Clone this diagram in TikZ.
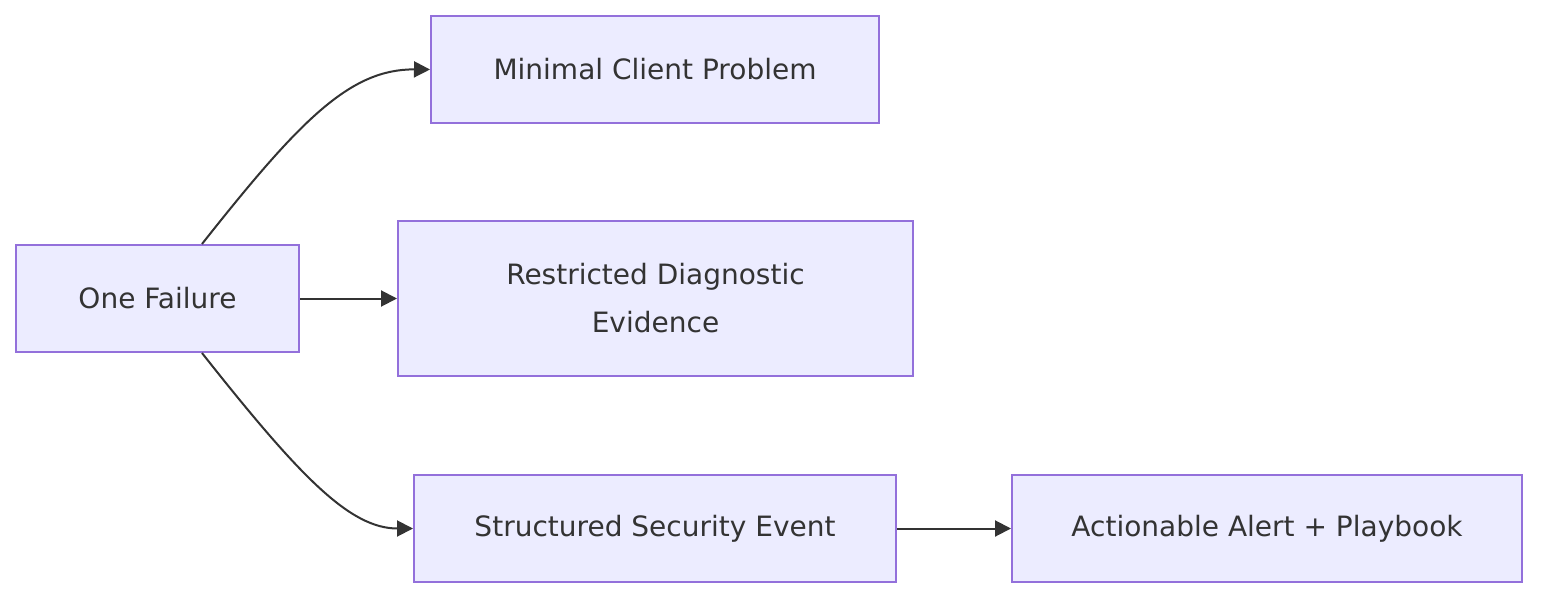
\documentclass[tikz,border=0pt]{standalone}
\usepackage{fontspec}
\setmainfont{DejaVu Sans}
\usetikzlibrary{arrows.meta,positioning,calc}

\definecolor{boxfill}{HTML}{ECECFF}
\definecolor{boxline}{HTML}{9370DB}
\definecolor{edgecol}{HTML}{333333}

\tikzset{
    flowbox/.style={draw=boxline, fill=boxfill, line width=2pt, align=center,
        inner sep=0pt, font=\fontsize{28}{48}\selectfont, text=edgecol},
    flowedge/.style={draw=edgecol, line width=2pt,
        -{Triangle[length=16pt, width=16pt]}}
}

\begin{document}
\begin{tikzpicture}[x=1pt, y=-1pt]
    \useasboundingbox (0,0) rectangle (1554,604);

    % Nodes
    \node[flowbox, minimum width=283pt, minimum height=107pt] (fail) at (157.5,298.5) {One Failure};
    \node[flowbox, minimum width=448pt, minimum height=107pt] (client) at (655,69.5) {Minimal Client Problem};
    \node[flowbox, minimum width=515pt, minimum height=155pt] (diag) at (655.5,298.5) {Restricted Diagnostic\\Evidence};
    \node[flowbox, minimum width=482pt, minimum height=107pt] (event) at (655,528.5) {Structured Security Event};
    \node[flowbox, minimum width=510pt, minimum height=107pt] (alert) at (1267,528.5) {Actionable Alert + Playbook};

    % Edges
    \coordinate (failtop) at ($(fail.north)+(44.5,0)$);
    \coordinate (failbot) at ($(fail.south)+(44.5,0)$);
    \draw[flowedge] (failtop) .. controls (300,120) and (350,69) .. (client.west);
    \draw[flowedge] (fail) -- (diag);
    \draw[flowedge] (failbot) .. controls (300,477) and (350,528.5) .. (event.west);
    \draw[flowedge] (event) -- (alert);
\end{tikzpicture}
\end{document}
